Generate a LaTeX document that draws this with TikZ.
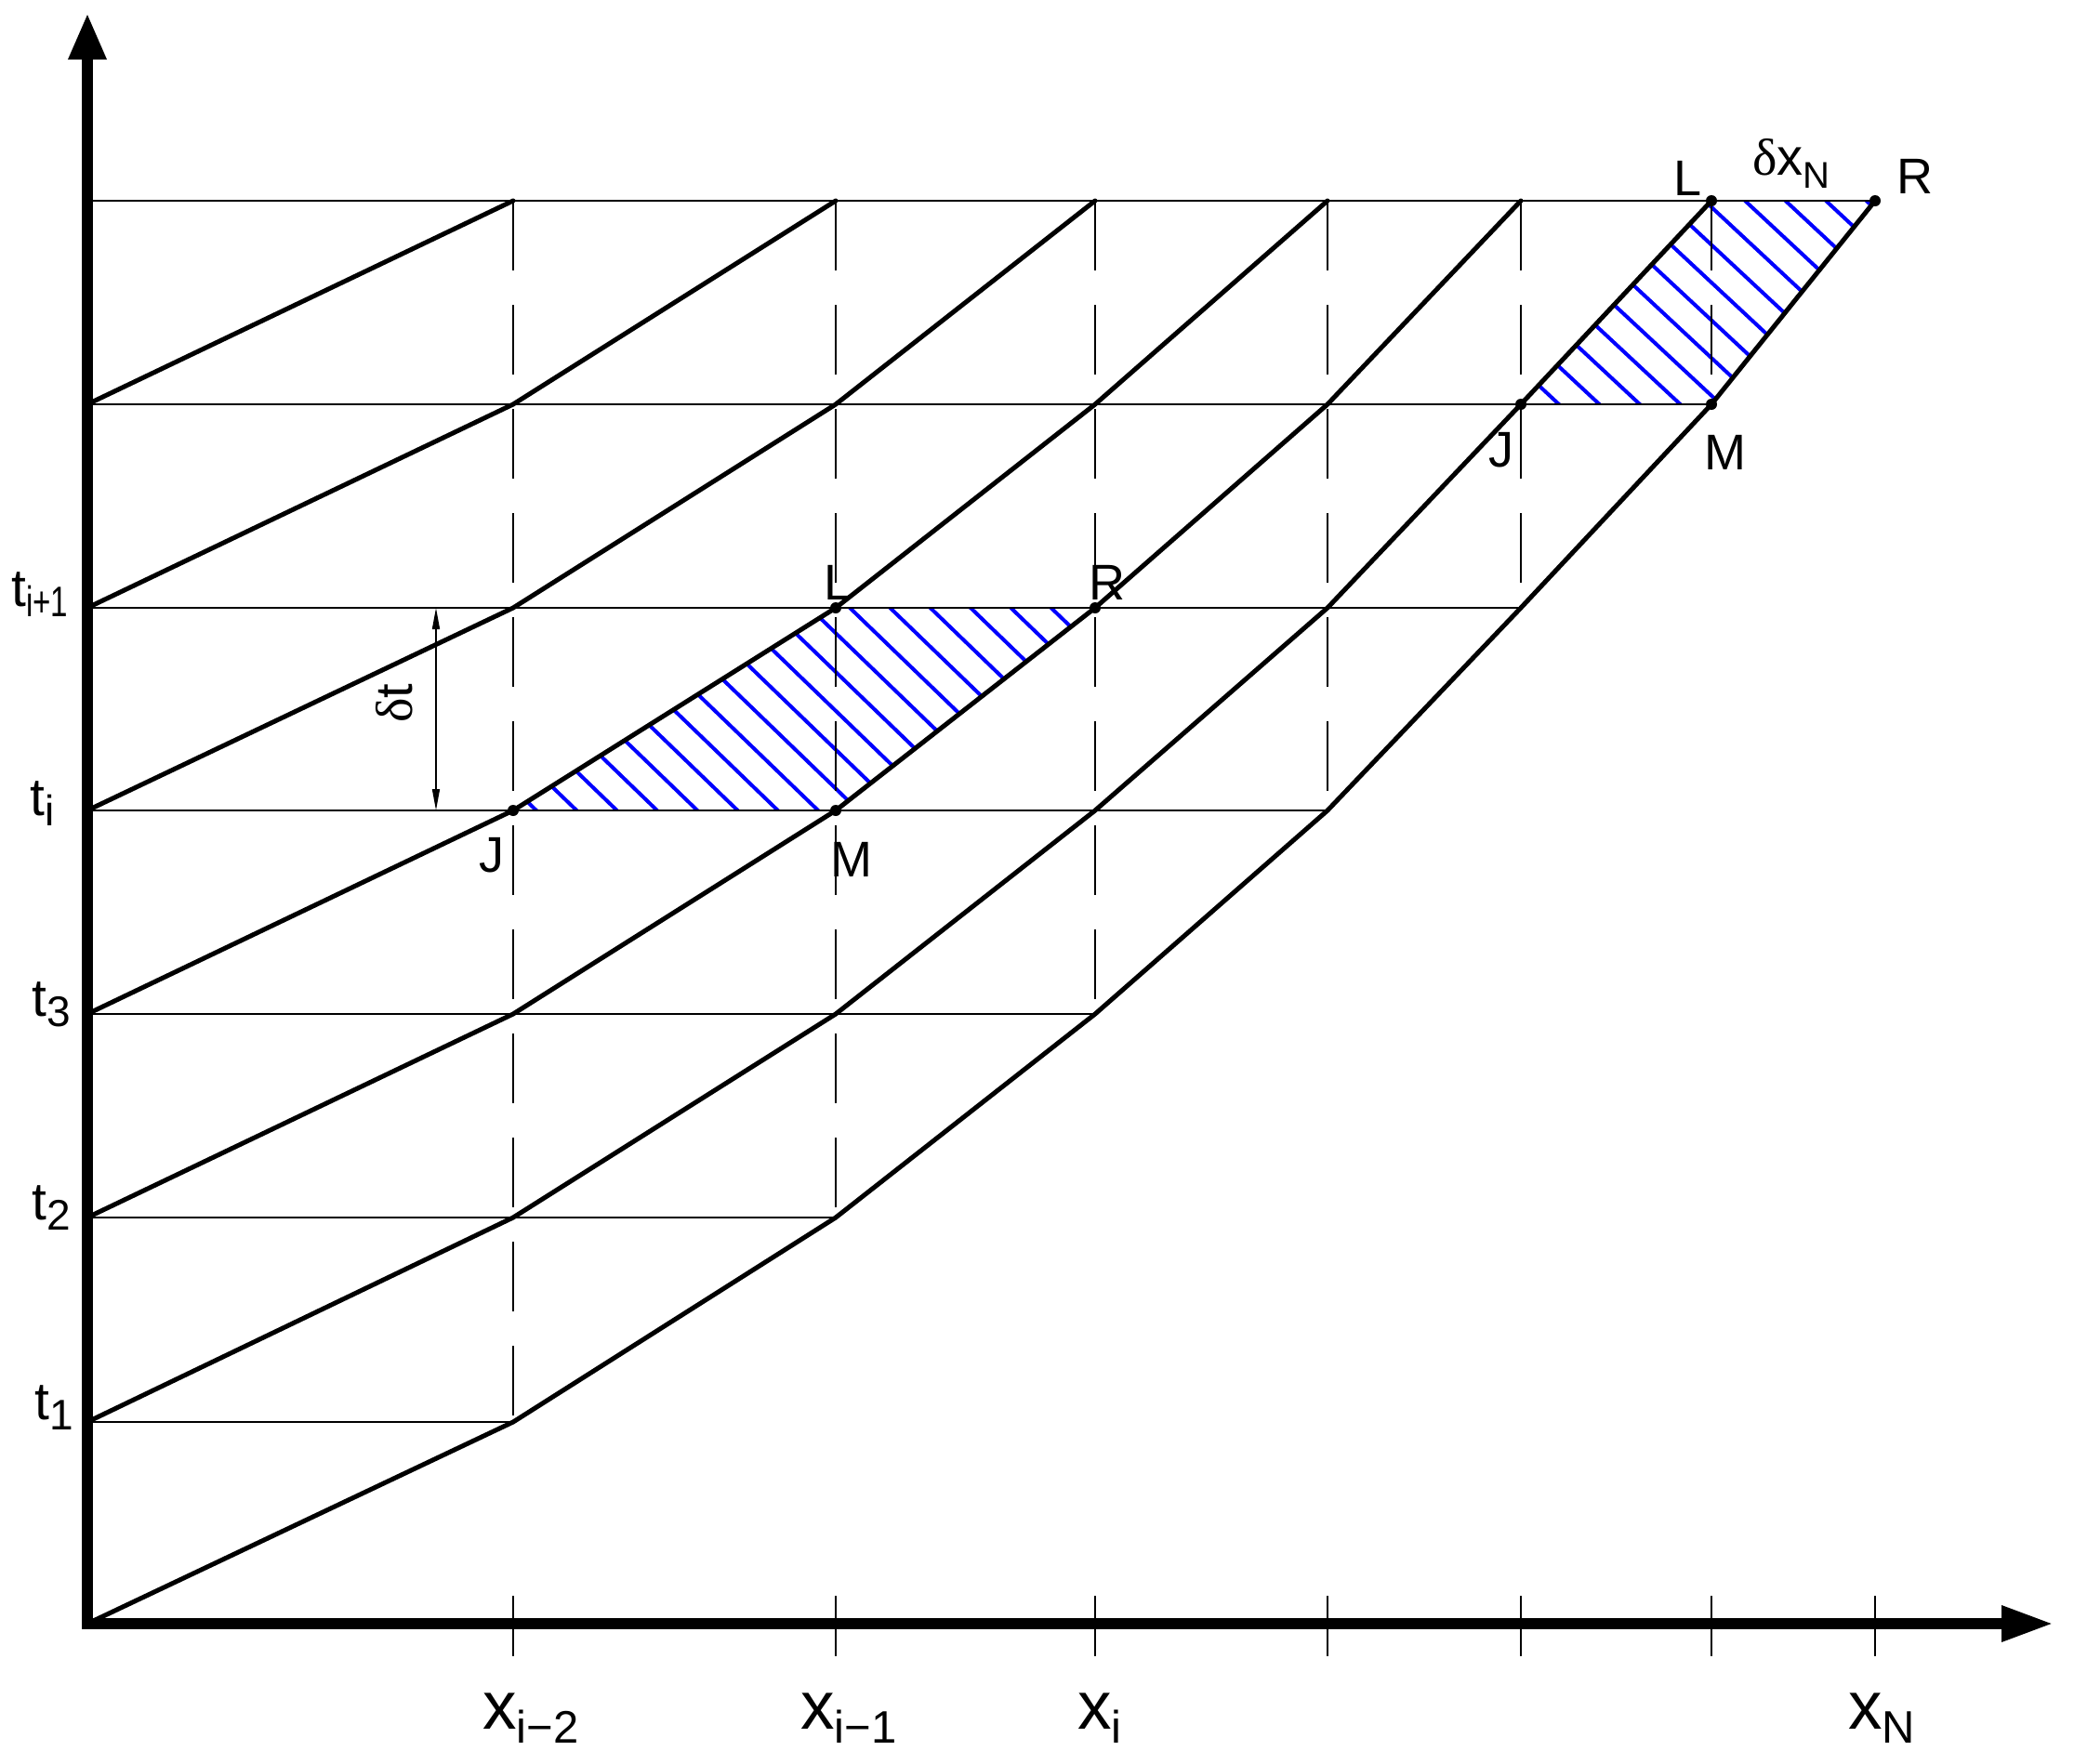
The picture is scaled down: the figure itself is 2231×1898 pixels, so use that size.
\documentclass[tikz,border=0pt]{standalone}
\usepackage{fontspec}
\setmainfont{Liberation Sans}
\newfontfamily\seriffont{Liberation Serif}
\usetikzlibrary{arrows.meta}
\definecolor{hatchblue}{RGB}{0,0,255}
\newcommand{\tlab}[1]{\fontsize{57pt}{60pt}\selectfont t\raisebox{-11pt}{\fontsize{46pt}{48pt}\selectfont #1}}
\newcommand{\xlab}[1]{\fontsize{73pt}{76pt}\selectfont x\raisebox{-15pt}{\fontsize{49pt}{52pt}\selectfont #1}}
\begin{document}
\begin{tikzpicture}[x=1pt,y=-1pt,
  axisline/.style={line width=12pt, line join=miter},
  gridline/.style={line width=1.6pt},
  dashline/.style={line width=1.6pt, dash pattern=on 75pt off 37pt},
  tickline/.style={line width=1.6pt},
  dimline/.style={line width=1.6pt},
  charline/.style={line width=5pt, line join=round, line cap=round},
  hatchline/.style={line width=4pt, draw=hatchblue},
  ptdot/.style={circle, fill=black, inner sep=0pt, minimum size=12pt},
  lab/.style={inner sep=0pt, anchor=base west, font=\fontsize{54pt}{58pt}\selectfont},
]
\useasboundingbox (0,0) rectangle (2231,1898);

% grid points g<column>-<row>
\foreach \xx [count=\j from 0] in {94,552,899,1178,1428,1636,1841,2017}{
  \foreach \yy [count=\r from 0] in {1747,1530,1310,1091,872,654,435,216}{
    \coordinate (g\j-\r) at (\xx,\yy);
  }
}
\coordinate (ytip) at (94,14);
\coordinate (xtip) at (2209,1747);

% hatching, middle cell J-M-R-L
\begin{scope}
  \clip (g1-4) -- (g2-4) -- (g3-5) -- (g2-5) -- cycle;
  \foreach \k in {-4,...,24}{
    \draw[hatchline] ({577+43.3*\k+310.6},1172) -- ({577+43.3*\k-414.2},472);
  }
\end{scope}
% hatching, upper right cell
\begin{scope}
  \clip (g5-6) -- (g6-6) -- (g7-7) -- (g6-7) -- cycle;
  \foreach \k in {-4,...,16}{
    \draw[hatchline] ({1677+43.5*\k+321.7},735) -- ({1677+43.5*\k-429},35);
  }
\end{scope}

% horizontal grid lines
\foreach \r in {1,...,7}{
  \draw[gridline] (g0-\r) -- (g\r-\r);
}
% vertical dashed lines
\foreach \j in {1,...,6}{
  \draw[dashline] (g\j-7) -- (g\j-\j);
}
% ticks on the x axis
\foreach \j in {1,...,7}{
  \draw[tickline] ([yshift=30pt]g\j-0) -- ([yshift=-35pt]g\j-0);
}

% characteristic lines
\draw[charline] (g0-0) -- (g1-1) -- (g2-2) -- (g3-3) -- (g4-4) -- (g5-5) -- (g6-6) -- (g7-7);
\draw[charline] (g0-1) -- (g1-2) -- (g2-3) -- (g3-4) -- (g4-5) -- (g5-6) -- (g6-7);
\draw[charline] (g0-2) -- (g1-3) -- (g2-4) -- (g3-5) -- (g4-6) -- (g5-7);
\draw[charline] (g0-3) -- (g1-4) -- (g2-5) -- (g3-6) -- (g4-7);
\draw[charline] (g0-4) -- (g1-5) -- (g2-6) -- (g3-7);
\draw[charline] (g0-5) -- (g1-6) -- (g2-7);
\draw[charline] (g0-6) -- (g1-7);

% axes
\draw[axisline, {Triangle[length=50pt,width=38pt]}-{Triangle[length=56pt,width=36pt]}] (ytip) -- (g0-0) -- (xtip);

% points
\node[ptdot] (J1) at (g1-4) {};
\node[ptdot] (M1) at (g2-4) {};
\node[ptdot] (L1) at (g2-5) {};
\node[ptdot] (R1) at (g3-5) {};
\node[ptdot] (J2) at (g5-6) {};
\node[ptdot] (M2) at (g6-6) {};
\node[ptdot] (L2) at (g6-7) {};
\node[ptdot] (R2) at (g7-7) {};

% point labels
\node[lab] (lJ1) at (515,938) {J};
\node[lab] (lM1) at (893,943) {M};
\node[lab] (lL1) at (886,645) {L};
\node[lab] (lR1) at (1171,645) {R};
\node[lab] (lJ2) at (1601,502) {J};
\node[lab] (lM2) at (1833,505) {M};
\node[lab] (lL2) at (1800,210) {L};
\node[lab] (lR2) at (2040,208) {R};

% delta t dimension
\coordinate (dtT) at (469,654);
\coordinate (dtB) at (469,872);
\draw[dimline, {Triangle[length=23pt,width=8pt]}-{Triangle[length=23pt,width=8pt]}] (dtT) -- (dtB);
\node[inner sep=0pt, rotate=90, font=\fontsize{56pt}{58pt}\selectfont] (dtlab) at (424,757) {{\seriffont δ}t};

% delta x_N
\node[lab, font=\fontsize{56pt}{58pt}\selectfont] (dxlab) at (1885,188) {{\seriffont δ}x\raisebox{-14pt}{\fontsize{40pt}{42pt}\selectfont N}};

% time labels
\node[lab] (t5) at (12,652) {\tlab{\scalebox{0.72}[1]{i+1}}};
\node[lab] (t4) at (32,877) {\tlab{i}};
\node[lab] (t3) at (34,1093) {\tlab{3}};
\node[lab] (t2) at (34,1312) {\tlab{2}};
\node[lab] (t1) at (37,1527) {\tlab{1}};

% x labels
\node[lab] (x1) at (519,1860) {\xlab{i−2}};
\node[lab] (x2) at (861,1860) {\xlab{i−1}};
\node[lab] (x3) at (1159,1860) {\xlab{i}};
\node[lab] (xN) at (1988,1860) {\xlab{N}};
\end{tikzpicture}
\end{document}
